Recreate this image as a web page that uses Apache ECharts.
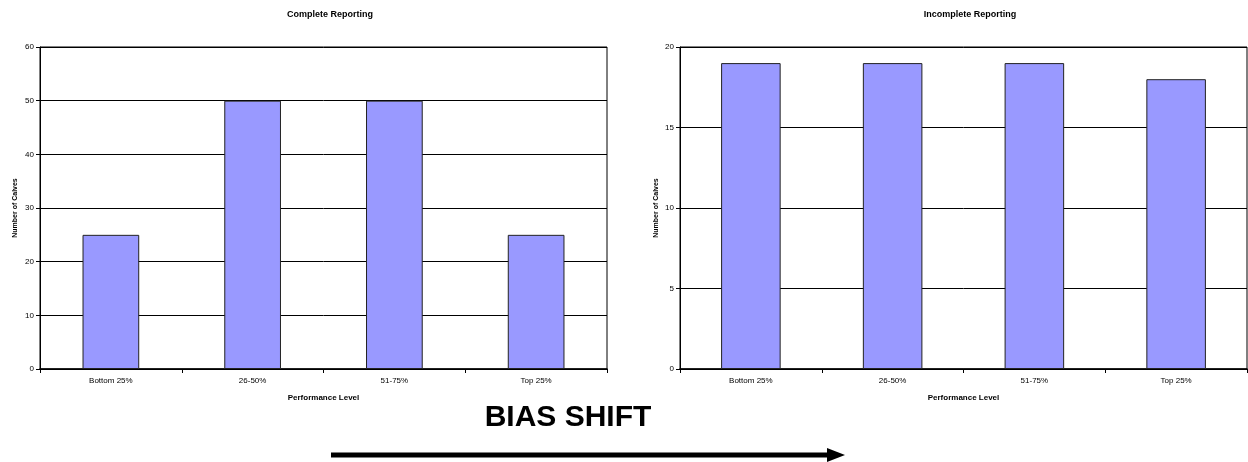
<!DOCTYPE html>
<html>
<head>
<meta charset="utf-8">
<script src="https://cdn.jsdelivr.net/npm/echarts@6/dist/echarts.min.js"></script>
<style>html,body{margin:0;padding:0;background:#fff}#c{width:1248px;height:462px}</style>
</head>
<body>
<div id="c"></div>
<script>
const categories = ['Bottom 25%', '26-50%', '51-75%', 'Top 25%'];
const completeValues = [25, 50, 50, 25];
const incompleteValues = [19, 19, 19, 18];
const leftTitle = 'Complete Reporting';
const rightTitle = 'Incomplete Reporting';
const yName = 'Number of Calves';
const xName = 'Performance Level';
const bannerText = 'BIAS SHIFT';

const FONT = '"Liberation Sans", Arial, sans-serif';
const chart = echarts.init(document.getElementById('c'), null, {renderer: 'canvas'});

function xAxis(idx) {
  return {
    type: 'category', gridIndex: idx, data: categories,
    name: xName, nameLocation: 'middle', nameGap: 25,
    nameTextStyle: {fontFamily: FONT, fontSize: 8, fontWeight: 'bold', color: '#000'},
    axisLine: {lineStyle: {color: '#000', width: 1.5}},
    axisTick: {show: true, alignWithLabel: false, length: 4, lineStyle: {color: '#000'}},
    axisLabel: {fontFamily: FONT, fontSize: 8, color: '#000', margin: 8},
    splitLine: {show: false}
  };
}
function yAxis(idx, max, interval, gap) {
  return {
    type: 'value', gridIndex: idx, min: 0, max: max, interval: interval,
    name: yName, nameLocation: 'middle', nameGap: gap, nameRotate: 90,
    nameTextStyle: {fontFamily: FONT, fontSize: 7, fontWeight: 'bold', color: '#000'},
    axisLine: {show: true, lineStyle: {color: '#000', width: 1}},
    axisTick: {show: true, length: 4, lineStyle: {color: '#000'}},
    axisLabel: {fontFamily: FONT, fontSize: 8, color: '#000', margin: 6},
    splitLine: {show: true, lineStyle: {color: '#000', width: 1}}
  };
}

chart.setOption({
  animation: false,
  backgroundColor: '#fff',
  title: [
    {text: leftTitle, left: 325, top: 5, textAlign: 'center',
     textStyle: {fontFamily: FONT, fontSize: 9, fontWeight: 'bold', color: '#000'}},
    {text: rightTitle, left: 965, top: 5, textAlign: 'center',
     textStyle: {fontFamily: FONT, fontSize: 9, fontWeight: 'bold', color: '#000'}}
  ],
  grid: [
    {left: 40, right: 641, top: 47, bottom: 93, show: true, borderColor: '#000', borderWidth: 1},
    {left: 680, right: 1, top: 47, bottom: 93, show: true, borderColor: '#000', borderWidth: 1}
  ],
  xAxis: [xAxis(0), xAxis(1)],
  yAxis: [yAxis(0, 60, 10, 21), yAxis(1, 20, 5, 20)],
  series: [
    {type: 'bar', xAxisIndex: 0, yAxisIndex: 0, data: completeValues, barWidth: '40%',
     itemStyle: {color: '#9999FF', borderColor: '#222', borderWidth: 1}},
    {type: 'bar', xAxisIndex: 1, yAxisIndex: 1, data: incompleteValues, barWidth: '42%',
     itemStyle: {color: '#9999FF', borderColor: '#222', borderWidth: 1}}
  ],
  graphic: [
    {type: 'text', x: 568, y: 403,
     style: {text: bannerText, font: 'bold 30px ' + FONT, fill: '#000', textAlign: 'center', textVerticalAlign: 'top'}},
    {type: 'line', shape: {x1: 331, y1: 455, x2: 830, y2: 455},
     style: {stroke: '#000', lineWidth: 5}},
    {type: 'polygon', shape: {points: [[827, 448], [845, 455], [827, 462]]},
     style: {fill: '#000'}}
  ]
});
</script>
</body>
</html>
